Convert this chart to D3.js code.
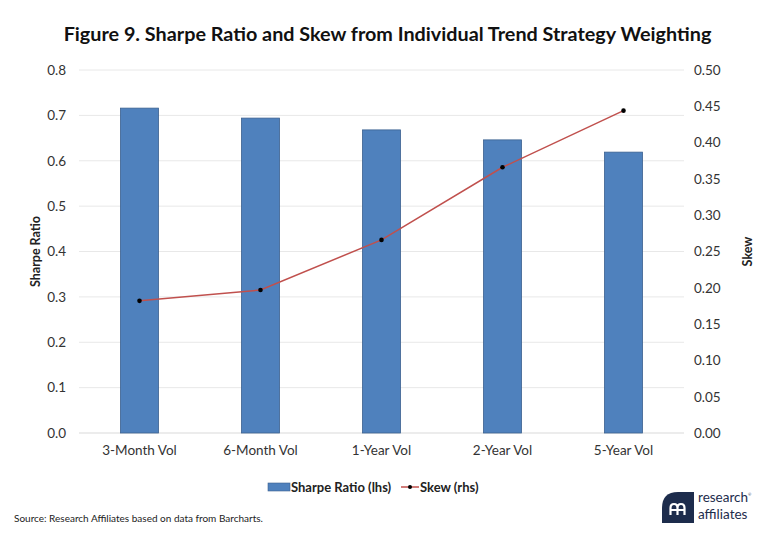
<!DOCTYPE html>
<html>
<head>
<meta charset="utf-8">
<script src="https://cdn.jsdelivr.net/npm/d3@7"></script>
<style>
  body { margin:0; background:#fff; }
  svg text { font-family: Lato, "Open Sans", sans-serif; }
</style>
</head>
<body>
<svg id="chart"></svg>
<script>
const W = 773, H = 538;

// data
const categories = ['3-Month Vol', '6-Month Vol', '1-Year Vol', '2-Year Vol', '5-Year Vol'];
const sharpe = [0.716, 0.694, 0.668, 0.646, 0.619];
const skew = [0.182, 0.197, 0.266, 0.366, 0.444];
const leftTicks = [0, 0.1, 0.2, 0.3, 0.4, 0.5, 0.6, 0.7, 0.8];
const rightTicks = [0, 0.05, 0.1, 0.15, 0.2, 0.25, 0.3, 0.35, 0.4, 0.45, 0.5];

const M = {l:79, r:684, t:70, b:433};

const svg = d3.select('#chart').attr('width', W).attr('height', H);

const x = d3.scaleBand().domain(categories).range([M.l, M.r]);
const yL = d3.scaleLinear().domain([0, 0.8]).range([M.b, M.t]);
const yR = d3.scaleLinear().domain([0, 0.5]).range([M.b, M.t]);
const barW = x.bandwidth() * 0.315;

// title
svg.append('text').attr('x', W/2 + 1).attr('y', 41).attr('text-anchor', 'middle')
  .attr('font-size', 19.8).attr('font-weight', 700).attr('fill', '#111')
  .text('Figure 9. Sharpe Ratio and Skew from Individual Trend Strategy Weighting');

// gridlines
svg.append('g').selectAll('line').data(leftTicks).join('line')
  .attr('x1', M.l).attr('x2', M.r)
  .attr('y1', d => yL(d)).attr('y2', d => yL(d))
  .attr('stroke', d => d === 0 ? '#d9d9d9' : '#e8e8e8').attr('stroke-width', 1);

// left axis
const gL = svg.append('g').attr('transform', `translate(${M.l},0)`)
  .call(d3.axisLeft(yL).tickValues(leftTicks).tickFormat(d3.format('.1f')).tickSize(0).tickPadding(13));
gL.select('.domain').remove();
gL.selectAll('text').attr('font-size', 13.5).attr('fill', '#333').attr('font-family', '"Open Sans", sans-serif');

// right axis
const gR = svg.append('g').attr('transform', `translate(${M.r},0)`)
  .call(d3.axisRight(yR).tickValues(rightTicks).tickFormat(d3.format('.2f')).tickSize(0).tickPadding(10));
gR.select('.domain').remove();
gR.selectAll('text').attr('font-size', 13.5).attr('fill', '#333').attr('font-family', '"Open Sans", sans-serif');

// x axis
const gX = svg.append('g').attr('transform', `translate(0,${M.b})`)
  .call(d3.axisBottom(x).tickSize(0).tickPadding(12));
gX.select('.domain').remove();
gX.selectAll('text').attr('font-size', 13.5).attr('fill', '#333').attr('font-family', '"Open Sans", sans-serif');

// axis titles
svg.append('text').attr('transform', `translate(40,${(M.t+M.b)/2}) rotate(-90)`)
  .attr('text-anchor', 'middle').attr('font-size', 12.5).attr('font-weight', 700).attr('fill', '#222')
  .attr('font-family', '"Open Sans", sans-serif').text('Sharpe Ratio');
svg.append('text').attr('transform', `translate(752,${(M.t+M.b)/2}) rotate(-90)`)
  .attr('text-anchor', 'middle').attr('font-size', 12.5).attr('font-weight', 700).attr('fill', '#222')
  .attr('font-family', '"Open Sans", sans-serif').text('Skew');

// bars
svg.append('g').selectAll('rect').data(categories).join('rect')
  .attr('x', (d) => x(d) + x.bandwidth()/2 - barW/2)
  .attr('y', (d, i) => yL(sharpe[i]))
  .attr('width', barW)
  .attr('height', (d, i) => yL(0) - yL(sharpe[i]))
  .attr('fill', '#4f81bd').attr('stroke', '#3c6190').attr('stroke-width', 0.8);

// skew line
const line = d3.line().x((d, i) => x(categories[i]) + x.bandwidth()/2).y(d => yR(d));
svg.append('path').datum(skew).attr('d', line)
  .attr('fill', 'none').attr('stroke', '#c0504d').attr('stroke-width', 1.5);
svg.append('g').selectAll('circle').data(skew).join('circle')
  .attr('cx', (d, i) => x(categories[i]) + x.bandwidth()/2)
  .attr('cy', d => yR(d)).attr('r', 2.3).attr('fill', '#000');

// legend
const lg = svg.append('g');
lg.append('rect').attr('x', 268).attr('y', 483).attr('width', 22).attr('height', 8)
  .attr('fill', '#4f81bd').attr('stroke', '#3c6190').attr('stroke-width', 0.6);
lg.append('text').attr('x', 291).attr('y', 492).attr('font-size', 13).attr('font-weight', 700)
  .attr('fill', '#222').text('Sharpe Ratio (lhs)');
lg.append('line').attr('x1', 401).attr('x2', 419).attr('y1', 487).attr('y2', 487)
  .attr('stroke', '#c0504d').attr('stroke-width', 1.5);
lg.append('circle').attr('cx', 410).attr('cy', 487).attr('r', 2).attr('fill', '#000');
lg.append('text').attr('x', 420).attr('y', 492).attr('font-size', 13).attr('font-weight', 700)
  .attr('fill', '#222').text('Skew (rhs)');

// source
svg.append('text').attr('x', 14).attr('y', 522).attr('font-size', 10).attr('fill', '#222')
  .text('Source: Research Affiliates based on data from Barcharts.');

// logo
const navy = '#1d2c4c';
const logo = svg.append('g');
logo.append('path').attr('d', 'M662,523 L662,508 Q662,492 678,492 L694,492 L694,523 Z')
  .attr('fill', navy);
logo.append('path')
  .attr('d', 'M670.5,515 L670.5,508 Q670.5,504 674,504 Q677.5,504 677.5,508 L677.5,515 M677.5,508 Q677.5,504 681,504 Q684.5,504 684.5,508 L684.5,515 M670.5,510 L684.5,510')
  .attr('fill', 'none').attr('stroke', '#fff').attr('stroke-width', 2.2);
const lt = logo.append('text').attr('x', 698).attr('y', 502).attr('font-size', 13.5).attr('fill', navy);
lt.append('tspan').text('research');
lt.append('tspan').attr('dy', -6).attr('font-size', 4).text('®');
lt.append('tspan').attr('x', 698).attr('dy', 22.5).text('affiliates');
</script>
</body>
</html>
